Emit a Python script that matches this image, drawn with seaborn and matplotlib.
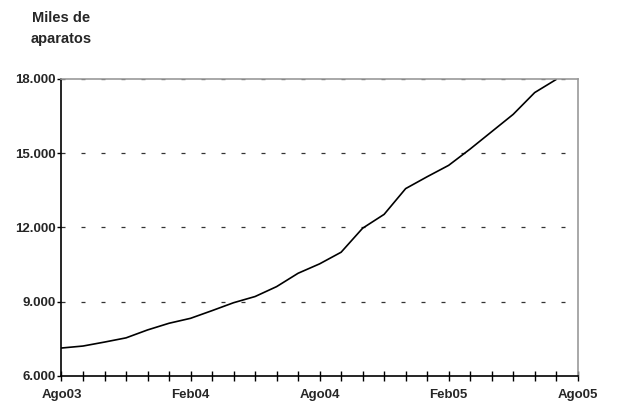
import matplotlib
matplotlib.use("Agg")
import matplotlib.pyplot as plt
import seaborn as sns
import pandas as pd
import numpy as np

months = list(range(24))
values = [7130, 7210, 7370, 7540, 7860, 8130, 8330, 8640, 8960, 9210, 9610, 10150,
          10530, 11000, 11970, 12530, 13570, 14050, 14510, 15170, 15870, 16570, 17450, 17980]
tick_labels = ["Ago03", "Feb04", "Ago04", "Feb05", "Ago05"]
y_ticks = [6000, 9000, 12000, 15000, 18000]
y_labels = ["6.000", "9.000", "12.000", "15.000", "18.000"]

sns.set_style("white")
plt.rcParams['font.family'] = ['Liberation Sans', 'DejaVu Sans']

df = pd.DataFrame({"mes": months, "valor": values})

fig = plt.figure(figsize=(6.23, 4.07), dpi=100)
ax = fig.add_axes([0.0987, 0.0762, 0.8286, 0.7298])

sns.lineplot(data=df, x="mes", y="valor", ax=ax, color="black", linewidth=1.2)

ax.set_xlim(0, 24)
ax.set_ylim(6000, 18000)

for yv in [9000, 12000, 15000, 18000]:
    ax.axhline(yv, color="#333333", linestyle=(0, (3.2, 12.8)), linewidth=0.9, zorder=0)

ax.set_xticks(range(25))
xl = [""] * 25
for i, t in enumerate(tick_labels):
    xl[i * 6] = t
ax.set_xticklabels(xl, fontsize=9.5, fontweight="bold")
ax.set_yticks(y_ticks)
ax.set_yticklabels(y_labels, fontsize=9.5, fontweight="bold")
ax.tick_params(axis="x", bottom=True, direction="inout", length=7, width=1, pad=6, color="black")
ax.tick_params(axis="y", left=True, direction="out", length=3, width=1, pad=1, color="black")
ax.set_xlabel("")
ax.set_ylabel("")

for s in ["left", "bottom"]:
    ax.spines[s].set_color("black")
    ax.spines[s].set_linewidth(1.2)
for s in ["top", "right"]:
    ax.spines[s].set_color("#999999")
    ax.spines[s].set_linewidth(1.2)

fig.text(0.098, 0.93, "Miles de\naparatos", ha="center", va="center",
         fontsize=10.5, fontweight="bold", linespacing=1.6)

fig.savefig("out.png", dpi=100)
